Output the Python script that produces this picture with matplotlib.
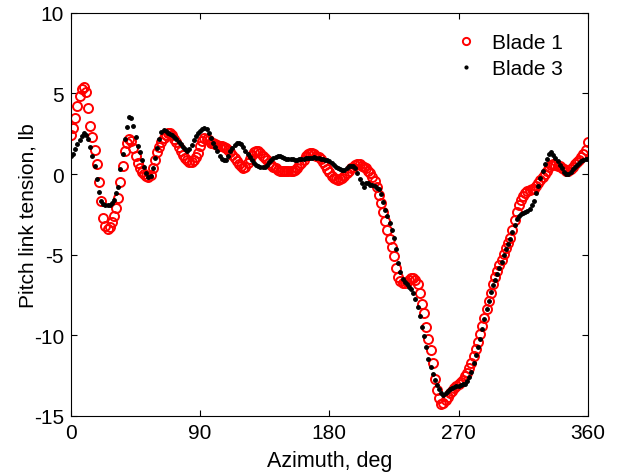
import numpy as np
import matplotlib
matplotlib.use("Agg")
import matplotlib.pyplot as plt

plt.rcParams['font.family'] = ['Liberation Sans', 'DejaVu Sans']
plt.rcParams['axes.unicode_minus'] = False

# азимут, шаг 1.5 градуса
azimuth = np.arange(0, 360.1, 1.5)

# Blade 1 (красные кружки)
blade1 = [
    2.4, 2.85, 3.5, 4.2, 4.85, 5.25, 5.42, 5.1, 4.1, 3.0,
    2.3, 1.5, 0.6, -0.5, -1.7, -2.7, -3.2, -3.4, -3.3, -3.0,
    -2.6, -2.1, -1.5, -0.5, 0.5, 1.4, 1.9, 2.15, 2.05, 1.6,
    1.15, 0.7, 0.35, 0.15, 0.0, -0.15, -0.2, -0.05, 0.35, 0.9,
    1.35, 1.7, 2.0, 2.25, 2.45, 2.55, 2.55, 2.4, 2.2, 2.0,
    1.7, 1.45, 1.2, 1.0, 0.85, 0.75, 0.75, 0.85, 1.05, 1.3,
    1.75, 2.05, 2.25, 2.2, 2.1, 1.95, 1.9, 1.85, 1.8, 1.75,
    1.72, 1.68, 1.6, 1.5, 1.35, 1.2, 1.0, 0.8, 0.65, 0.52,
    0.4, 0.45, 0.7, 0.95, 1.2, 1.35, 1.45, 1.4, 1.3, 1.15,
    1.0, 0.85, 0.7, 0.55, 0.45, 0.35, 0.25, 0.2, 0.2, 0.2,
    0.2, 0.2, 0.2, 0.2, 0.25, 0.4, 0.55, 0.7, 0.9, 1.1,
    1.25, 1.32, 1.3, 1.22, 1.15, 1.05, 0.95, 0.75, 0.55, 0.3,
    0.1, -0.1, -0.22, -0.3, -0.35, -0.32, -0.25, -0.1, 0.05, 0.2,
    0.35, 0.45, 0.55, 0.6, 0.6, 0.52, 0.45, 0.35, 0.2, 0.05,
    -0.2, -0.4, -0.8, -1.3, -1.8, -2.35, -2.9, -3.45, -4.0, -4.5,
    -5.1, -5.85, -6.4, -6.65, -6.75, -6.75, -6.7, -6.55, -6.45, -6.45,
    -6.6, -6.85, -7.4, -8.05, -8.6, -9.5, -10.2, -10.9, -11.75, -12.7,
    -13.4, -13.9, -14.25, -14.2, -14.0, -13.8, -13.6, -13.45, -13.3, -13.15,
    -13.05, -12.9, -12.75, -12.55, -12.35, -12.05, -11.7, -11.3, -10.85, -10.4,
    -9.95, -9.45, -8.95, -8.4, -7.85, -7.35, -6.85, -6.4, -6.0, -5.65,
    -5.3, -4.95, -4.6, -4.3, -3.95, -3.45, -2.85, -2.35, -1.95, -1.6,
    -1.35, -1.2, -1.08, -1.0, -0.95, -0.9, -0.75, -0.55, -0.35, -0.2,
    0.0, 0.2, 0.42, 0.55, 0.6, 0.57, 0.52, 0.48, 0.4, 0.3,
    0.22, 0.2, 0.3, 0.45, 0.6, 0.75, 0.9, 1.05, 1.25, 1.5,
    1.97,
]

# Blade 3 (черные точки)
blade3 = [
    1.1, 1.25, 1.55, 1.85, 2.1, 2.35, 2.55, 2.45, 2.15, 1.7,
    1.15, 0.5, -0.3, -1.1, -1.65, -1.85, -1.92, -1.95, -1.92, -1.8,
    -1.6, -1.2, -0.8, 0.3, 1.25, 2.2, 2.9, 3.55, 3.5, 2.95,
    2.3, 1.75, 1.35, 0.9, 0.45, 0.05, -0.2, -0.15, 0.4, 1.0,
    1.6, 2.15, 2.6, 2.75, 2.65, 2.55, 2.47, 2.4, 2.3, 2.15,
    2.0, 1.85, 1.7, 1.55, 1.45, 1.55, 1.8, 2.1, 2.35, 2.55,
    2.7, 2.8, 2.88, 2.8, 2.55, 2.25, 1.95, 1.65, 1.4, 1.15,
    0.95, 0.85, 0.9, 1.15, 1.4, 1.6, 1.78, 1.92, 1.95, 1.85,
    1.65, 1.45, 1.25, 1.05, 0.85, 0.68, 0.55, 0.48, 0.43, 0.41,
    0.45, 0.58, 0.75, 0.9, 1.0, 1.08, 1.12, 1.1, 1.04, 0.98,
    0.95, 0.93, 0.92, 0.91, 0.9, 0.9, 0.91, 0.93, 0.95, 0.97,
    0.99, 1.0, 1.02, 1.03, 1.02, 0.99, 0.96, 0.93, 0.9, 0.86,
    0.8, 0.68, 0.57, 0.46, 0.37, 0.29, 0.23, 0.25, 0.38, 0.5,
    0.52, 0.47, 0.38, 0.05, -0.3, -0.55, -0.82, -0.55, -0.55, -0.65,
    -0.7, -0.77, -0.85, -0.95, -1.25, -1.75, -2.2, -2.6, -3.05, -3.45,
    -3.95, -4.65, -5.5, -6.1, -6.5, -6.7, -6.85, -7.0, -7.15, -7.35,
    -7.75, -8.25, -8.8, -9.5, -10.05, -10.75, -11.45, -11.95, -12.4, -12.75,
    -13.1, -13.35, -13.55, -13.7, -13.6, -13.45, -13.34, -13.27, -13.2, -13.15,
    -13.12, -13.08, -13.05, -13.0, -12.85, -12.6, -12.3, -11.75, -11.2, -10.7,
    -10.2, -9.6, -9.0, -8.4, -7.85, -7.3, -6.9, -6.55, -6.2, -5.85,
    -5.45, -5.05, -4.65, -4.35, -4.05, -3.6, -3.15, -2.8, -2.6, -2.5,
    -2.42, -2.35, -2.28, -2.15, -1.95, -1.65, -1.2, -0.72, -0.25, 0.2,
    0.6, 0.95, 1.25, 1.35, 1.2, 0.98, 0.78, 0.55, 0.35, 0.15,
    0.02, 0.0, 0.12, 0.3, 0.42, 0.55, 0.67, 0.78, 0.87, 0.92,
    0.95,
]

fig = plt.figure(figsize=(6.22, 4.77), dpi=100)
ax = fig.add_axes([0.114, 0.126, 0.831, 0.845])

ax.plot(azimuth, blade1, 'o', color='red', mfc='none', mew=1.4, ms=6.5, label='Blade 1')
ax.plot(azimuth, blade3, '.', color='black', ms=5, label='Blade 3')

ax.set_xlim(0, 360)
ax.set_ylim(-15, 10)
ax.set_xticks([0, 90, 180, 270, 360])
ax.set_yticks([-15, -10, -5, 0, 5, 10])
ax.tick_params(direction='in', top=True, right=True, labelsize=15, length=4, pad=5)
ax.set_xlabel('Azimuth, deg', fontsize=15.5, labelpad=6)
ax.set_ylabel('Pitch link tension, lb', fontsize=15, labelpad=-3)

ax.legend(loc='upper right', bbox_to_anchor=(0.988, 0.997), frameon=False,
          fontsize=15, handletextpad=0.25, borderaxespad=0.5, labelspacing=0.35,
          markerscale=0.8)

fig.savefig('out.png', dpi=100)
